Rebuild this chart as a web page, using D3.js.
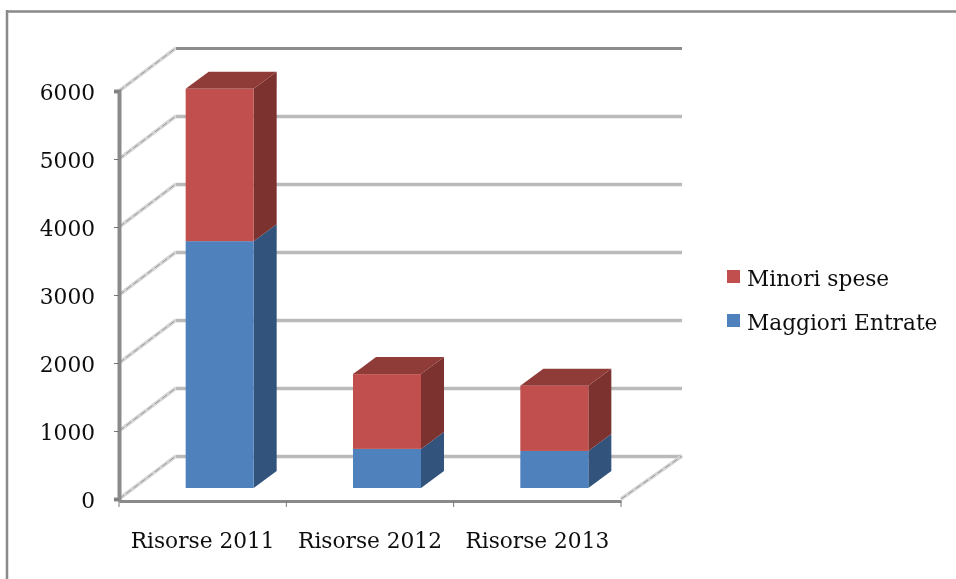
<!DOCTYPE html>
<html>
<head>
<meta charset="utf-8">
<script src="https://cdn.jsdelivr.net/npm/d3@7"></script>
<style>
html, body { margin: 0; padding: 0; background: #fff; overflow: hidden; }
text { font-family: "DejaVu Serif", serif; fill: #111; }
</style>
</head>
<body>
<script>
// values
const categories = ["Risorse 2011", "Risorse 2012", "Risorse 2013"];
const maggioriEntrate = [3630, 575, 545];
const minoriSpese = [2240, 1100, 960];
const yTicks = [0, 1000, 2000, 3000, 4000, 5000, 6000];
const legendLabels = ["Minori spese", "Maggiori Entrate"];

const W = 956, H = 579;
const svg = d3.select("body").append("svg").attr("width", W).attr("height", H);

// outer frame: only top and left edges are in the picture
svg.append("line").attr("x1", 7).attr("y1", 10).attr("x2", 7).attr("y2", H)
    .attr("stroke", "#8a8a8a").attr("stroke-width", 2.5);
svg.append("line").attr("x1", 6).attr("y1", 11.5).attr("x2", W).attr("y2", 11.5)
    .attr("stroke", "#8a8a8a").attr("stroke-width", 2.5);

// the reference is a soft, upscaled picture
svg.append("defs").append("filter").attr("id", "soft")
    .attr("filterUnits", "userSpaceOnUse")
    .attr("x", 0).attr("y", 0).attr("width", W).attr("height", H)
    .append("feGaussianBlur").attr("stdDeviation", 0.55);
const root = svg.append("g").attr("filter", "url(#soft)");

// plot box: front axes plus the shift back to the wall
const x = d3.scaleBand().domain(categories).range([119, 621]);
const y = d3.scaleLinear().domain([0, 6000]).range([499, 91]);
const wall = { dx: 57, dy: -43 };
const barBase = { dx: 17, dy: -11 };  // bars sit a little inside the floor
const barDepth = { dx: 23, dy: -17 };
const barW = 68;

const wallGrid = root.append("g");
function slanted(x1, y1, x2, y2) {
    wallGrid.append("line").attr("x1", x1).attr("y1", y1).attr("x2", x2).attr("y2", y2)
        .attr("stroke", "#d4d4d4").attr("stroke-width", 3.5);
    wallGrid.append("line").attr("x1", x1).attr("y1", y1).attr("x2", x2).attr("y2", y2)
        .attr("stroke", "#999").attr("stroke-width", 1).attr("stroke-dasharray", "6 3");
}
yTicks.forEach(t => {
    slanted(119, y(t), 119 + wall.dx, y(t) + wall.dy);
    // back wall
    wallGrid.append("line")
        .attr("x1", 119 + wall.dx).attr("y1", y(t) + wall.dy + 0.5).attr("x2", 682).attr("y2", y(t) + wall.dy + 0.5)
        .attr("stroke", t === 6000 ? "#8c8c8c" : "#bababa").attr("stroke-width", t === 6000 ? 3 : 3.5);
});
// floor right edge
slanted(621, 499, 621 + wall.dx + 4, 499 + wall.dy);

// stacked 3D bars
const rows = categories.map((c, i) => ({ cat: c, "Maggiori Entrate": maggioriEntrate[i], "Minori spese": minoriSpese[i] }));
const stack = d3.stack().keys(["Maggiori Entrate", "Minori spese"])(rows);
const colors = {
    "Maggiori Entrate": { front: "#4f81bd", side: "#30527c", top: "#3d6491" },
    "Minori spese": { front: "#c0504d", side: "#7c312f", top: "#8f3a38" }
};

const bx = c => x(c) + (x.bandwidth() - barW) / 2 + barBase.dx;
const by = v => y(v) + barBase.dy;

stack.forEach(s => {
    const col = colors[s.key];
    const g = root.append("g").attr("class", "series");
    s.forEach(d => {
        const c = d.data.cat, l = bx(c), r = l + barW, top = by(d[1]), bot = by(d[0]);
        g.append("path")
            .attr("d", `M${r},${top}L${r + barDepth.dx},${top + barDepth.dy}L${r + barDepth.dx},${bot + barDepth.dy}L${r},${bot}Z`)
            .attr("fill", col.side);
        if (s.key === "Minori spese") {
            g.append("path")
                .attr("d", `M${l},${top}L${l + barDepth.dx},${top + barDepth.dy}L${r + barDepth.dx},${top + barDepth.dy}L${r},${top}Z`)
                .attr("fill", col.top);
        }
        g.append("rect").attr("x", l).attr("y", top).attr("width", barW).attr("height", bot - top)
            .attr("fill", col.front);
    });
});

// axes
const yAxis = d3.axisLeft(y).tickValues(yTicks).tickSize(5).tickFormat(d => d);
const yG = root.append("g").attr("transform", "translate(119,0)").call(yAxis);
yG.select(".domain").attr("stroke", "#8a8a8a").attr("stroke-width", 4);
yG.selectAll(".tick line").attr("stroke", "#777");
yG.selectAll("text").attr("font-size", 21.7).attr("x", -24).attr("y", 2);

const xAxis = d3.axisBottom(x).tickValues([]).tickSize(0);
const xG = root.append("g").attr("transform", "translate(0,501)").call(xAxis);
xG.select(".domain").attr("stroke", "#8a8a8a").attr("stroke-width", 3);
// separators between categories
const xEdges = categories.map(c => x(c)).concat([x.range()[1]]);
xG.selectAll(".sep").data(xEdges).enter().append("line").attr("class", "sep")
    .attr("x1", d => d).attr("x2", d => d).attr("y1", 0).attr("y2", 6)
    .attr("stroke", "#777");
root.selectAll(".catlabel").data(categories).enter().append("text").attr("class", "catlabel")
    .attr("x", d => x(d) + x.bandwidth() / 2).attr("y", 548)
    .attr("text-anchor", "middle").attr("font-size", 21.7).text(d => d);

// legend
const legendY = d3.scalePoint().domain(legendLabels).range([277, 321]);
const legendColors = [colors["Minori spese"].front, colors["Maggiori Entrate"].front];
legendLabels.forEach((l, i) => {
    root.append("rect").attr("x", 727).attr("y", legendY(l) - 7).attr("width", 13).attr("height", 13)
        .attr("fill", legendColors[i]);
    root.append("text").attr("x", 747).attr("y", legendY(l) + 8.5).attr("font-size", 21.7).text(l);
});
</script>
</body>
</html>
